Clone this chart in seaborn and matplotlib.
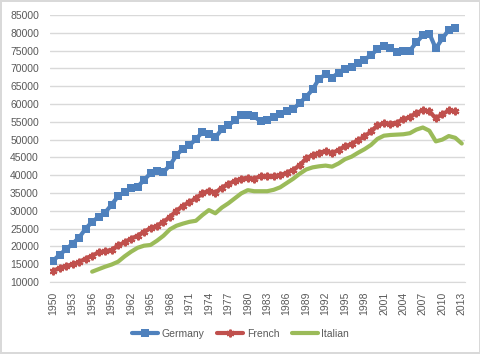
# GDP per capita style chart: Germany / French / Italian

import numpy as np
import pandas as pd
import matplotlib
matplotlib.use('Agg')
import matplotlib.pyplot as plt
import seaborn as sns

# data
years = list(range(1950, 2014))

germany = [16000, 17700, 19200, 20800, 22500, 25000, 26900, 28300, 29500, 31700,
           34100, 35300, 36400, 36700, 38700, 40500, 41300, 40900, 42800, 45600,
           47500, 48400, 50100, 52100, 51700, 50600, 52900, 54000, 55400, 57000,
           57000, 56500, 55100, 55400, 56400, 57300, 58000, 58500, 60300, 62000,
           64100, 67100, 68300, 67400, 68800, 69900, 70400, 71400, 72500, 73700,
           75400, 76300, 75600, 74700, 75000, 75000, 77300, 79300, 79800, 75600,
           78400, 80800, 81400]

french = [13100, 14000, 14500, 15000, 15600, 16600, 17400, 18300, 18700, 19000,
          20300, 21100, 22200, 23000, 24100, 25100, 25800, 26900, 28300, 30000,
          31400, 32400, 33500, 34900, 35700, 35100, 36500, 37500, 38400, 39000,
          39300, 39000, 39800, 39800, 39800, 40000, 40700, 41500, 42800, 44700,
          45700, 46300, 46800, 46200, 47100, 48100, 48800, 49800, 50900, 52300,
          54000, 54600, 54500, 54800, 55700, 56400, 57400, 58300, 57900, 56000,
          57100, 58200, 58000]

italian_start = 1956
italian = [12900, 13600, 14300, 14900, 15700, 17200, 18500, 19600, 20200, 20400,
           21600, 23000, 24800, 25800, 26400, 26900, 27200, 28800, 30200, 29300,
           30900, 32100, 33500, 34900, 35800, 35500, 35500, 35500, 35900, 36600,
           37800, 39000, 40400, 41600, 42200, 42500, 42700, 42400, 43300, 44500,
           45200, 46300, 47300, 48500, 50200, 51100, 51300, 51400, 51500, 51800,
           52800, 53400, 52500, 49500, 50000, 51000, 50500, 48900]

y_ticks = list(range(10000, 90000, 5000))
x_ticks = list(range(1950, 2014, 3))

df = pd.DataFrame({'year': years})
df['Germany'] = germany + [np.nan] * (len(years) - len(germany))
df['French'] = french + [np.nan] * (len(years) - len(french))
df['Italian'] = [np.nan] * (italian_start - 1950) + italian

sns.set_style('white')
plt.rcParams['font.family'] = ['Liberation Sans', 'DejaVu Sans']

fig = plt.figure(figsize=(4.81, 3.54), dpi=100)
fig.patch.set_edgecolor('#D9D9D9')
fig.patch.set_linewidth(1.5)
ax = fig.add_axes([50 / 481, 1 - 282 / 354, 415 / 481, 267 / 354])

sns.lineplot(data=df, x='year', y='Germany', ax=ax, color='#4F81BD', linewidth=3,
             marker='s', markersize=6, markeredgewidth=0, label='Germany')
sns.lineplot(data=df, x='year', y='French', ax=ax, color='#C0504D', linewidth=3,
             marker=(6, 2, 0), markersize=5.5, markeredgewidth=1.6,
             markeredgecolor='#C0504D', label='French')
sns.lineplot(data=df, x='year', y='Italian', ax=ax, color='#9BBB59', linewidth=3,
             label='Italian')

ax.set_xlim(1949.5, 2013.5)
ax.set_ylim(10000, 85000)
ax.set_yticks(y_ticks)
ax.set_xticks(x_ticks)
ax.set_xticklabels([str(y) for y in x_ticks], rotation=90)
ax.set_xlabel('')
ax.set_ylabel('')
ax.grid(axis='y', color='#D9D9D9', linewidth=1)
ax.set_axisbelow(True)
ax.tick_params(axis='both', labelsize=7.5, labelcolor='#595959', length=0)
ax.tick_params(axis='y', pad=8)
ax.tick_params(axis='x', pad=7)
for s in ['top', 'right', 'left']:
    ax.spines[s].set_visible(False)
ax.spines['bottom'].set_color('#D9D9D9')

ax.get_legend().remove()
h, l = ax.get_legend_handles_labels()
fig.legend(h, l, loc='center', bbox_to_anchor=(0.5, 1 - 334 / 354), ncol=3,
           frameon=False, fontsize=7.5, handlelength=2.5, columnspacing=1.2,
           handletextpad=0.35, labelcolor='#595959')

plt.savefig('out.png', dpi=100)
